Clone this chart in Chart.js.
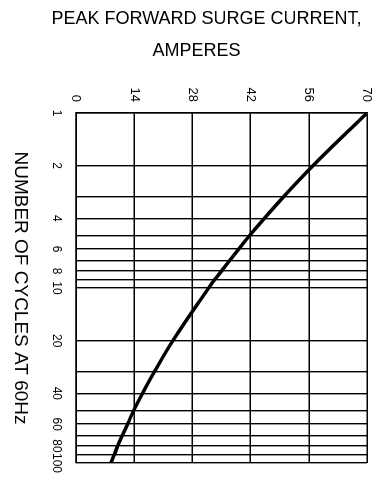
<!DOCTYPE html>
<html>
<head>
<meta charset="utf-8">
<script src="https://cdn.jsdelivr.net/npm/chart.js@4"></script>
<style>
  html, body { margin: 0; padding: 0; background: #fff; overflow: hidden; }
  #wrap {
    position: absolute; left: 0; top: 0; width: 486px; height: 377px;
    transform-origin: 0 0;
    transform: translateX(377px) rotate(90deg);
  }
</style>
</head>
<body>
<div id="wrap"><canvas id="surge" width="486" height="377"></canvas></div>
<script>
// number of cycles at 60Hz (log axis) and peak surge current
const cycles = [1, 2, 3, 4, 5, 6, 7, 8, 9, 10, 20, 30, 40, 50, 60, 70, 80, 90, 100];
const amps = [70, 57.0, 50.0, 45.3, 41.8, 39.1, 36.9, 35.0, 33.3, 31.9, 23.3, 18.9, 16.0, 13.9, 12.4, 11.1, 10.0, 9.2, 8.4];

const cycleGrid = [1, 2, 3, 4, 5, 6, 7, 8, 9, 10, 20, 30, 40, 50, 60, 70, 80, 90, 100];
const cycleLabels = [1, 2, 4, 6, 8, 10, 20, 40, 60, 80, 100];
const ampTicks = [0, 14, 28, 42, 56, 70];

Chart.defaults.font.family = "Arial, 'Liberation Sans', sans-serif";
Chart.defaults.color = "#000";

// the whole chart is drawn landscape and then turned 90deg clockwise by css
const ctx = document.getElementById("surge").getContext("2d");
new Chart(ctx, {
  type: "line",
  data: {
    datasets: [
      {
        data: cycles.map((c, i) => ({ x: c, y: amps[i] })),
        borderColor: "#000",
        borderWidth: 3.5,
        pointRadius: 0,
        tension: 0.4,
      },
    ],
  },
  options: {
    responsive: false,
    animation: false,
    devicePixelRatio: 1,
    layout: { padding: { top: 0, right: 23, left: 0, bottom: 0 } },
    plugins: { legend: { display: false }, tooltip: { enabled: false } },
    scales: {
      x: {
        type: "logarithmic",
        min: 1,
        max: 100,
        afterBuildTicks: (scale) => {
          scale.ticks = cycleGrid.map((v) => ({ value: v }));
        },
        afterFit: (scale) => {
          scale.height = 76;
        },
        ticks: {
          autoSkip: false,
          maxRotation: 0,
          padding: 12,
          font: { size: 12 },
          callback: (v) => (cycleLabels.includes(v) ? String(v) : ""),
        },
        grid: { color: "#000", lineWidth: 1.4, drawTicks: false },
        border: { color: "#000", width: 1.5 },
        title: {
          display: true,
          text: "NUMBER OF CYCLES AT 60Hz",
          font: { size: 19 },
          padding: { top: 0, bottom: 9 },
        },
      },
      y: {
        min: 0,
        max: 70,
        afterBuildTicks: (scale) => {
          scale.ticks = ampTicks.map((v) => ({ value: v }));
        },
        afterFit: (scale) => {
          scale.width = 113;
          scale.paddingTop = 10;
          scale.paddingBottom = 0;
        },
        ticks: { padding: 11, font: { size: 13 } },
        grid: { color: "#000", lineWidth: 1.4, drawTicks: false },
        border: { color: "#000", width: 1.5 },
        title: {
          display: true,
          text: ["PEAK FORWARD SURGE CURRENT,      ", "AMPERES          "],
          font: { size: 18, lineHeight: 1.78 },
          padding: { top: 3, bottom: 0 },
        },
      },
    },
  },
});
</script>
</body>
</html>
